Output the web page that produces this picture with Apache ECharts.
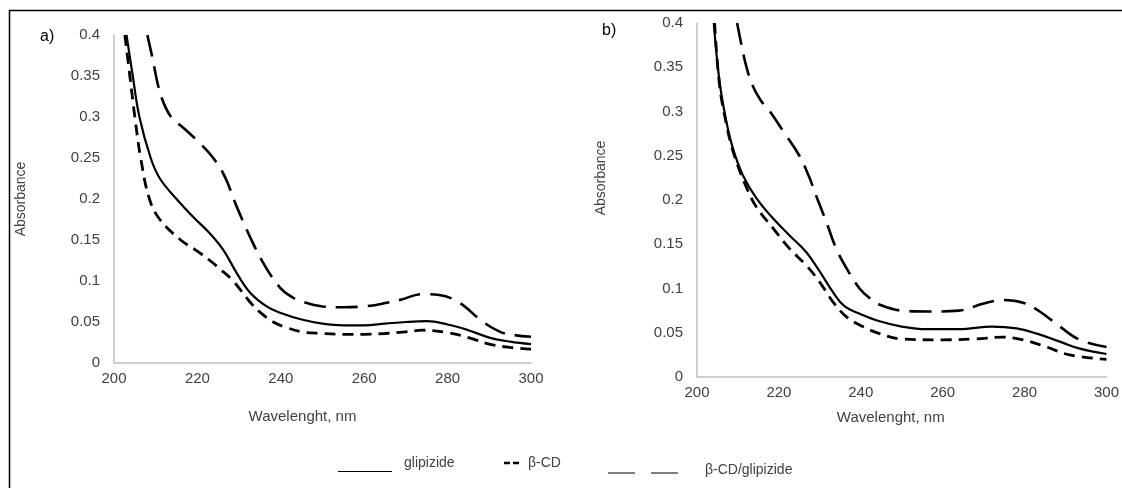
<!DOCTYPE html>
<html><head><meta charset="utf-8">
<script src="https://cdn.jsdelivr.net/npm/echarts@6/dist/echarts.min.js"></script>
<style>html,body{margin:0;padding:0;background:#fff}#c{width:1122px;height:488px}</style>
</head><body><div id="c"></div>
<script>
// ---- data ----
const xTickMin = 200, xTickMax = 300, xTickStep = 20;
const yTickMin = 0, yTickMax = 0.4, yTickStep = 0.05;
const seriesNames = ['glipizide', 'β-CD', 'β-CD/glipizide'];
const panelLabels = ['a)', 'b)'];
const xAxisTitle = 'Wavelenght, nm';
const yAxisTitle = 'Absorbance';

// panel a
const waveA_gli = [203,204.5,206.1,208.8,211,215,219,223,226.2,229.4,232.6,236.6,240,245,250,255,260,265,270,275,280,285,290,295,300];
const absA_gli  = [0.400,0.350,0.300,0.250,0.225,0.200,0.178,0.158,0.138,0.110,0.086,0.069,0.061,0.053,0.048,0.046,0.046,0.048,0.050,0.051,0.047,0.040,0.031,0.026,0.023];
const waveA_cd  = [202.6,203.8,205,206.4,208.5,211,216,219.5,223,226,228.6,232.5,235,238.2,241.5,245,250,255,260,265,270,274,280,285,290,295,300];
const absA_cd   = [0.400,0.350,0.300,0.250,0.200,0.175,0.150,0.138,0.125,0.112,0.100,0.075,0.062,0.050,0.043,0.038,0.036,0.035,0.035,0.036,0.038,0.040,0.037,0.031,0.023,0.019,0.017];
const waveA_mix = [208,209.3,210.5,212,214,216.6,220.6,223.8,226.6,229.4,232.6,235.8,239.8,242.5,245,250,255,260,264,268.6,274,278,283,288,292.6,296,300];
const absA_mix  = [0.400,0.370,0.340,0.316,0.298,0.287,0.268,0.250,0.227,0.191,0.154,0.122,0.092,0.081,0.075,0.069,0.068,0.069,0.072,0.077,0.084,0.083,0.073,0.052,0.038,0.034,0.032];

// panel b
const waveB_gli = [204.1,205.5,207.2,208.8,211.2,214.5,218.6,222.6,226.7,230,233.2,236,240,244.6,250,256,264,272,278,283,288.6,293.5,300];
const absB_gli  = [0.400,0.334,0.288,0.258,0.228,0.202,0.179,0.160,0.141,0.119,0.096,0.080,0.071,0.063,0.057,0.054,0.054,0.057,0.055,0.049,0.040,0.032,0.026];
const waveB_cd  = [204.3,205.5,207.2,208.8,210.5,212,214.5,218.6,222.6,226.7,230,233.2,236.5,240.5,244.6,250,260,268,274.7,279.6,285.3,291,300];
const absB_cd   = [0.400,0.330,0.285,0.255,0.232,0.215,0.192,0.168,0.145,0.126,0.107,0.085,0.068,0.057,0.049,0.043,0.042,0.043,0.045,0.042,0.034,0.025,0.020];
const waveB_mix = [209.8,211,212.1,213.5,215.5,217.8,221.3,225,227.3,229.5,231.6,234,236.5,239.7,242.2,245,250,256.8,264,270,274.8,279.6,283.7,288.6,293.5,300];
const absB_mix  = [0.400,0.372,0.350,0.330,0.313,0.300,0.276,0.250,0.227,0.200,0.175,0.145,0.123,0.100,0.089,0.081,0.075,0.074,0.075,0.083,0.087,0.084,0.074,0.057,0.042,0.034];

// ---- chart ----
const FONT = '"Liberation Sans", Arial, sans-serif';
const TXT = '#404040';
const AX = '#bfbfbf';
const pair = (xs, ys) => xs.map((x, i) => [x, ys[i]]);

const styles = [
  { type: 'solid', width: 2.2 },
  { type: [11, 7], width: 2.8 },
  { type: [22, 10], width: 2.6 }
];

function xAx(gi, gap, pad) {
  return {
    type: 'value', gridIndex: gi, min: xTickMin, max: xTickMax, interval: xTickStep,
    name: xAxisTitle, nameLocation: 'middle', nameGap: gap,
    nameTextStyle: { color: TXT, fontSize: 15, fontFamily: FONT, padding: pad },
    axisLine: { show: true, lineStyle: { color: AX, width: 1.5 } },
    axisTick: { show: false }, splitLine: { show: false },
    axisLabel: { color: TXT, fontSize: 15, fontFamily: FONT, margin: 8 }
  };
}
function yAx(gi, gap, pad) {
  return {
    type: 'value', gridIndex: gi, min: yTickMin, max: yTickMax, interval: yTickStep,
    name: yAxisTitle, nameLocation: 'middle', nameGap: gap, nameRotate: 90,
    nameTextStyle: { color: TXT, fontSize: 14, fontFamily: FONT, padding: pad },
    axisLine: { show: true, lineStyle: { color: AX, width: 1.5 } },
    axisTick: { show: false }, splitLine: { show: false },
    axisLabel: { color: TXT, fontSize: 15, fontFamily: FONT, margin: 14 }
  };
}
function ser(name, gi, data, st) {
  return {
    type: 'line', name, xAxisIndex: gi, yAxisIndex: gi, data,
    smooth: 0.4, showSymbol: false, symbol: 'none', clip: true,
    lineStyle: { color: '#000', width: st.width, type: st.type, cap: 'butt' },
    animation: false
  };
}

const chart = echarts.init(document.getElementById('c'), null, { renderer: 'canvas' });
chart.setOption({
  animation: false,
  backgroundColor: '#fff',
  grid: [
    { left: 114, top: 35, width: 417, height: 328 },
    { left: 697, top: 23, width: 410, height: 354 }
  ],
  xAxis: [xAx(0, 46, [0, 40, 0, 0]), xAx(1, 33, [0, 22, 0, 0])],
  yAxis: [yAx(0, 86, [0, 0, 0, 0]), yAx(1, 89, [0, 0, 0, 44])],
  title: [
    { text: panelLabels[0], left: 35, top: 24, textStyle: { color: '#000', fontSize: 16, fontWeight: 'normal', fontFamily: FONT } },
    { text: panelLabels[1], left: 597, top: 18, textStyle: { color: '#000', fontSize: 16, fontWeight: 'normal', fontFamily: FONT } }
  ],
  series: [
    ser(seriesNames[0], 0, pair(waveA_gli, absA_gli), styles[0]),
    ser(seriesNames[1], 0, pair(waveA_cd, absA_cd), styles[1]),
    ser(seriesNames[2], 0, pair(waveA_mix, absA_mix), styles[2]),
    ser(seriesNames[0], 1, pair(waveB_gli, absB_gli), styles[0]),
    ser(seriesNames[1], 1, pair(waveB_cd, absB_cd), styles[1]),
    ser(seriesNames[2], 1, pair(waveB_mix, absB_mix), styles[2])
  ],
  graphic: [
    // outer frame (top and left edges)
    { type: 'polyline', shape: { points: [[9.5, 488], [9.5, 10.5], [1122, 10.5]] }, style: { stroke: '#000', lineWidth: 1.5, fill: null }, silent: true },
    // legend
    { type: 'line', shape: { x1: 338, y1: 471.5, x2: 392, y2: 471.5 }, style: { stroke: '#000', lineWidth: 1 } },
    { type: 'text', left: 404, top: 456, style: { text: seriesNames[0], fill: TXT, font: '14px ' + FONT } },
    { type: 'line', shape: { x1: 504, y1: 463, x2: 510, y2: 463 }, style: { stroke: '#000', lineWidth: 2.5 } },
    { type: 'line', shape: { x1: 513, y1: 463, x2: 519, y2: 463 }, style: { stroke: '#000', lineWidth: 2.5 } },
    { type: 'text', left: 528, top: 456, style: { text: seriesNames[1], fill: TXT, font: '14px ' + FONT } },
    { type: 'line', shape: { x1: 608, y1: 473, x2: 635, y2: 473 }, style: { stroke: '#000', lineWidth: 1 } },
    { type: 'line', shape: { x1: 651, y1: 473, x2: 678, y2: 473 }, style: { stroke: '#000', lineWidth: 1 } },
    { type: 'text', left: 705, top: 463, style: { text: seriesNames[2], fill: TXT, font: '14px ' + FONT } }
  ]
});
</script>
</body></html>
